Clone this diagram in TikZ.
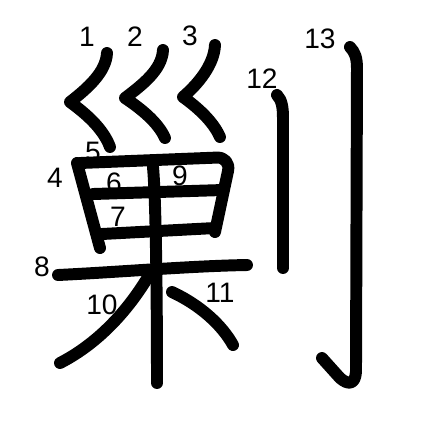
\documentclass[tikz,border=0pt]{standalone}
\usepackage{fontspec}
\setmainfont{Liberation Sans}
\begin{document}
\begin{tikzpicture}[x=0.01cm,y=-0.01cm,
  strk/.style={line width=3.4pt,line cap=round,line join=round},
  num/.style={font=\fontsize{8}{8}\selectfont,inner sep=0pt}]
\useasboundingbox (0,0) rectangle (447,447);
% strokes
\draw[strk] (107,53) .. controls (106,72) and (88,88) .. (70,102) .. controls (85,113) and (103,128) .. (110,147);
\draw[strk] (163,50) .. controls (162,70) and (142,85) .. (125,98) .. controls (140,108) and (158,122) .. (165,138);
\draw[strk] (215,45) .. controls (214,65) and (198,84) .. (183,97) .. controls (197,107) and (213,121) .. (220,137);
\draw[strk] (77,163) -- (100,248);
\draw[strk,rounded corners=4pt] (80,163) -- (231,157) -- (215,232);
\draw[strk] (93,194) -- (223,190);
\draw[strk] (102,234) -- (215,228);
\draw[strk] (58,275) .. controls (120,272) and (190,266) .. (247,265);
\draw[strk] (153,167) .. controls (156,200) and (157,300) .. (157,383);
\draw[strk] (148,277) .. controls (125,315) and (95,345) .. (60,363);
\draw[strk] (172,292) .. controls (200,305) and (222,325) .. (233,345);
\draw[strk] (277,95) .. controls (282,100) and (283,108) .. (283,118) -- (283,268);
\draw[strk] (350,47) .. controls (355,52) and (357,58) .. (357,68) -- (356,372) .. controls (355,385) and (348,385) .. (340,378) -- (322,358);
% labels
\node[num] (n1) at (87,37) {1};
\node[num] (n2) at (135,37) {2};
\node[num] (n3) at (190,36) {3};
\node[num] (n4) at (55,178) {4};
\node[num] (n5) at (93,152) {5};
\node[num] (n6) at (114,183) {6};
\node[num] (n7) at (118,217) {7};
\node[num] (n8) at (42,267) {8};
\node[num] (n9) at (180,176) {9};
\node[num] (n10) at (102,305) {10};
\node[num] (n11) at (220,293) {11};
\node[num] (n12) at (262,79) {12};
\node[num] (n13) at (320,39) {13};
\end{tikzpicture}
\end{document}
